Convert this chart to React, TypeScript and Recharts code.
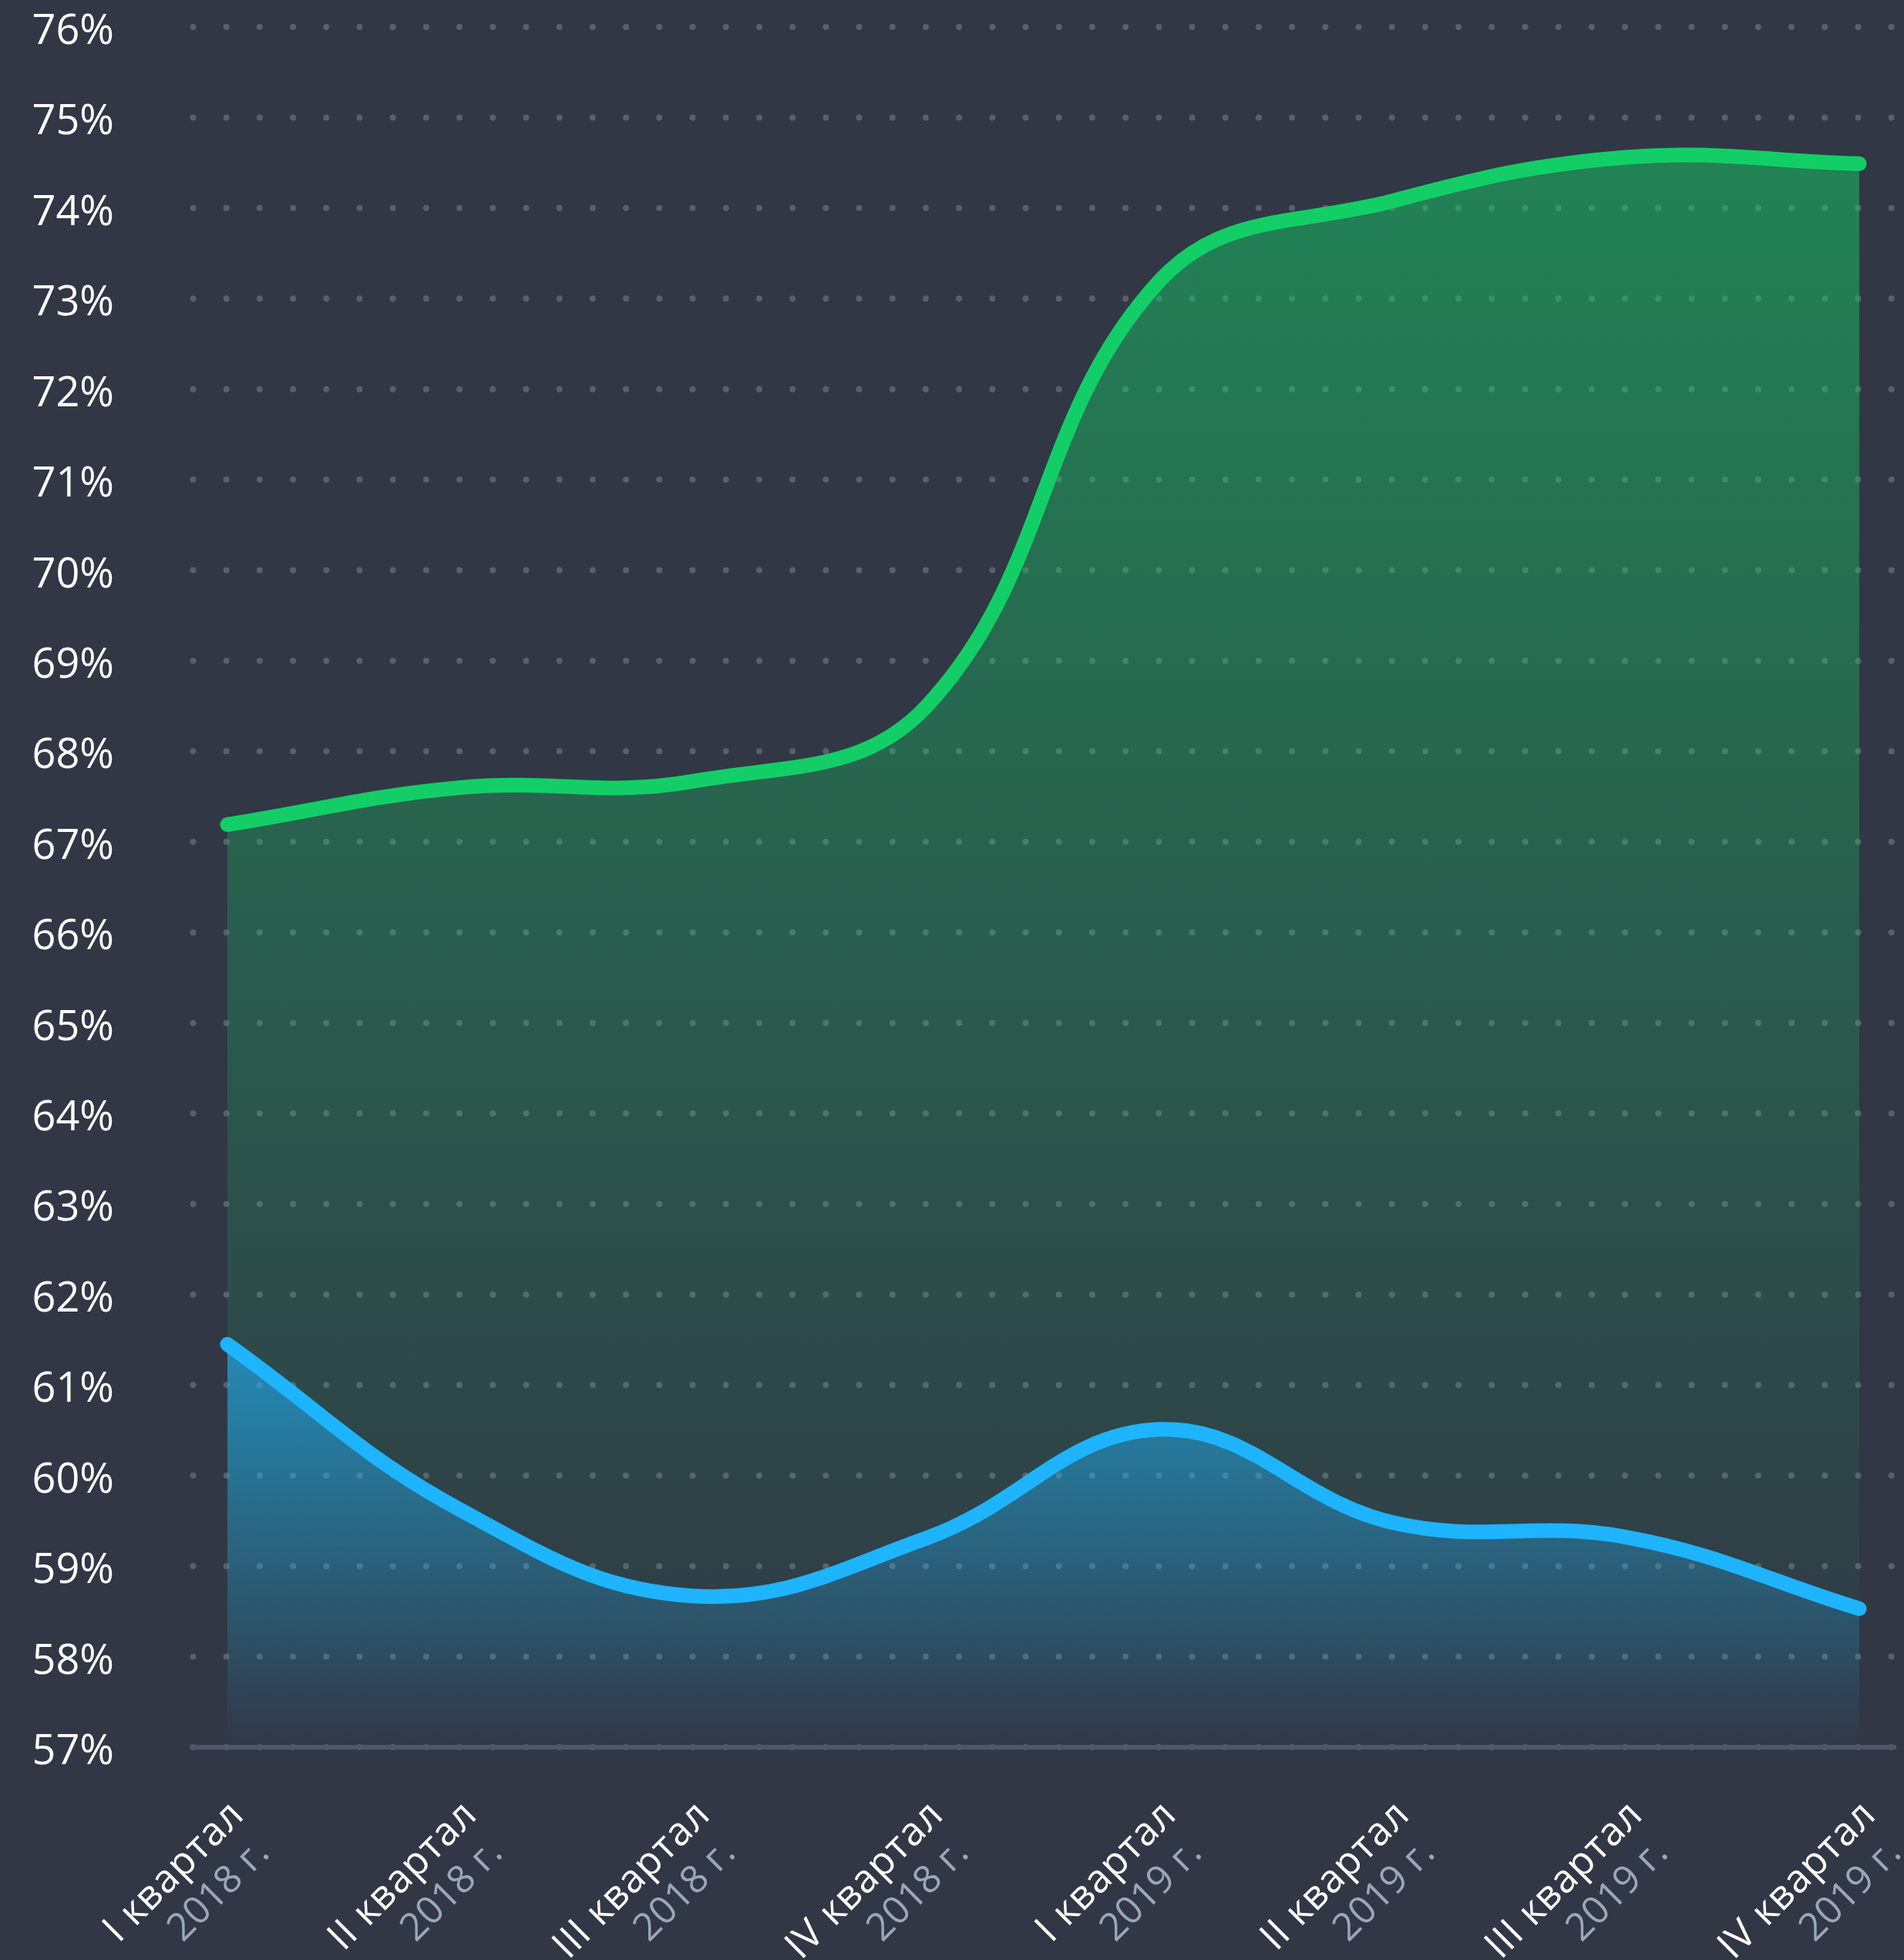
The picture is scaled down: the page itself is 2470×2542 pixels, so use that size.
import React from 'react';
import { AreaChart, Area, XAxis, YAxis, CartesianGrid } from 'recharts';

const quarters = ['I квартал', 'II квартал', 'III квартал', 'IV квартал', 'I квартал', 'II квартал', 'III квартал', 'IV квартал'];
const years = ['2018 г.', '2018 г.', '2018 г.', '2018 г.', '2019 г.', '2019 г.', '2019 г.', '2019 г.'];
const greenValues = [67.19, 67.6, 67.67, 68.5, 73.2, 74.08, 74.56, 74.49];
const blueValues = [61.45, 59.62, 58.67, 59.31, 60.51, 59.48, 59.32, 58.53];
const yTicks = [57, 58, 59, 60, 61, 62, 63, 64, 65, 66, 67, 68, 69, 70, 71, 72, 73, 74, 75, 76];

const data = quarters.map((q, i) => ({ idx: i, quarter: q, year: years[i], green: greenValues[i], blue: blueValues[i] }));

const FONT = '"Open Sans", "Noto Sans", sans-serif';

// Tension spline (distance-weighted cardinal), used as a d3-style curve factory
function tensionSpline(tension: number) {
  return (context: any) => {
    let xs: number[] = [];
    let ys: number[] = [];
    let line = NaN;
    return {
      areaStart() { line = 0; },
      areaEnd() { line = NaN; },
      lineStart() { xs = []; ys = []; },
      point(x: number, y: number) { xs.push(+x); ys.push(+y); },
      lineEnd() {
        const n = xs.length;
        if (n > 0) {
          if (line) context.lineTo(xs[0], ys[0]); else context.moveTo(xs[0], ys[0]);
          const cpPrev: [number, number][] = [];
          const cpNext: [number, number][] = [];
          for (let i = 0; i < n; i++) {
            const p = i > 0 ? i - 1 : i;
            const q = i < n - 1 ? i + 1 : i;
            const d01 = Math.hypot(xs[i] - xs[p], ys[i] - ys[p]);
            const d12 = Math.hypot(xs[q] - xs[i], ys[q] - ys[i]);
            const sum = d01 + d12;
            const s01 = sum > 0 ? d01 / sum : 0;
            const s12 = sum > 0 ? d12 / sum : 0;
            const fa = tension * s01;
            const fb = tension * s12;
            const vx = xs[q] - xs[p];
            const vy = ys[q] - ys[p];
            cpPrev.push([xs[i] - fa * vx, ys[i] - fa * vy]);
            cpNext.push([xs[i] + fb * vx, ys[i] + fb * vy]);
          }
          for (let i = 0; i < n - 1; i++) {
            context.bezierCurveTo(cpNext[i][0], cpNext[i][1], cpPrev[i + 1][0], cpPrev[i + 1][1], xs[i + 1], ys[i + 1]);
          }
        }
        if (line || (line !== 0 && n === 1)) context.closePath();
        line = 1 - line;
      },
    };
  };
}

const smoothCurve = tensionSpline(0.4);

const YTick = (props: any) => {
  const { x, y, payload } = props;
  return (
    <text x={x - 100} y={y + 22} textAnchor="end" fill="#ffffff" fontSize={54} fontFamily={FONT}>
      {payload.value}%
    </text>
  );
};

const XTick = (props: any) => {
  const { x, y, payload } = props;
  const i = payload.value as number;
  return (
    <g transform={`translate(${x + 24},${y + 90})`}>
      <text transform="rotate(-45)" textAnchor="end" fontFamily={FONT}>
        <tspan x={0} dy={0} fill="#ffffff" fontSize={51} letterSpacing={1}>{quarters[i]}</tspan>
        <tspan x={-12} dy={58} fill="#98a8bc" fontSize={50}>{years[i]}</tspan>
      </text>
    </g>
  );
};

const DotLine = (props: any) => {
  const { x1, x2, y1, y2 } = props;
  return (
    <line
      key={`dot-${y1}`}
      x1={x1 + 2.5}
      x2={x2}
      y1={y1}
      y2={y2}
      stroke="rgba(255,255,255,0.2)"
      strokeWidth={8}
      strokeLinecap="round"
      strokeDasharray="0 43.2"
    />
  );
};

export default function App() {
  return (
    <div style={{ position: 'absolute', left: 0, top: 0, width: 2470, height: 2542, background: '#313745', overflow: 'hidden' }}>
      <AreaChart width={2470} height={2542} data={data} margin={{ top: 35, right: 10, bottom: 0, left: 0 }}>
        <defs>
          <linearGradient id="gGreen" x1="0" y1="0" x2="0" y2="1">
            <stop offset="0%" stopColor="#13CE66" stopOpacity={0.5} />
            <stop offset="100%" stopColor="#13CE66" stopOpacity={0} />
          </linearGradient>
          <linearGradient id="gBlue" x1="0" y1="0" x2="0" y2="1">
            <stop offset="0%" stopColor="#1EB4FF" stopOpacity={0.6} />
            <stop offset="100%" stopColor="#1EB4FF" stopOpacity={0} />
          </linearGradient>
        </defs>
        <CartesianGrid vertical={false} horizontal={DotLine} />
        <XAxis
          dataKey="idx"
          type="category"
          padding={{ left: 47, right: 48 }}
          height={276}
          axisLine={{ stroke: '#4e5869', strokeWidth: 6 }}
          tickLine={false}
          tickSize={0}
          tickMargin={0}
          interval={0}
          tick={<XTick />}
        />
        <YAxis
          domain={[57, 76]}
          ticks={yTicks}
          interval={0}
          width={248}
          axisLine={false}
          tickLine={false}
          tickSize={0}
          tickMargin={0}
          tick={<YTick />}
        />
        <Area
          type={smoothCurve as any}
          dataKey="green"
          stroke="#13CE66"
          strokeWidth={19}
          strokeLinecap="round"
          fill="url(#gGreen)"
          fillOpacity={1}
          dot={false}
          activeDot={false}
          isAnimationActive={false}
        />
        <Area
          type={smoothCurve as any}
          dataKey="blue"
          stroke="#1EB4FF"
          strokeWidth={19}
          strokeLinecap="round"
          fill="url(#gBlue)"
          fillOpacity={1}
          dot={false}
          activeDot={false}
          isAnimationActive={false}
        />
      </AreaChart>
    </div>
  );
}
